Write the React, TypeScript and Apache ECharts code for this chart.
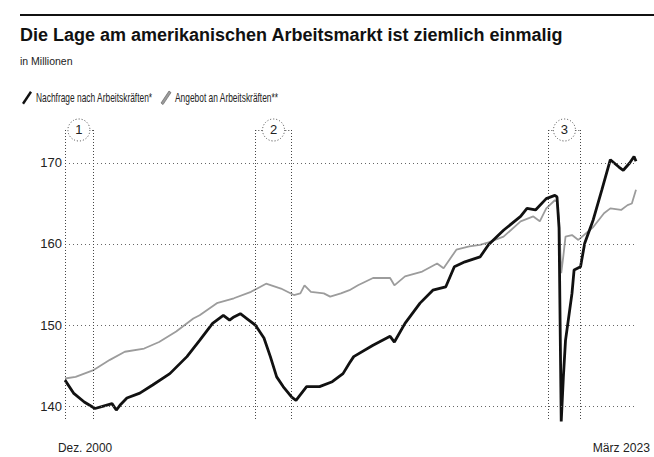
import React, { useEffect, useRef } from "react";
import * as echarts from "echarts";

const FONT = '"Liberation Sans", Arial, Helvetica, sans-serif';

const title = "Die Lage am amerikanischen Arbeitsmarkt ist ziemlich einmalig";
const subtitle = "in Millionen";
const seriesNames = ["Nachfrage nach Arbeitskräften*", "Angebot an Arbeitskräften**"];
const seriesColors = ["#111111", "#9c9c9c"];

const demandDates = [
  "2000-12", "2001-04", "2001-09", "2002-02", "2002-06", "2002-10", "2002-12", "2003-02", "2003-05", "2003-11",
  "2004-05", "2005-01", "2005-09", "2006-03", "2006-09", "2007-02", "2007-05", "2007-07", "2007-10", "2008-01",
  "2008-05", "2008-09", "2008-12", "2009-03", "2009-06", "2009-10", "2009-12", "2010-05", "2010-11", "2011-05",
  "2011-10", "2012-01", "2012-03", "2012-12", "2013-08", "2013-10", "2014-03", "2014-10", "2015-04", "2015-10",
  "2016-02", "2016-07", "2017-02", "2017-06", "2018-01", "2018-09", "2018-12", "2019-04", "2019-09", "2020-01",
  "2020-02", "2020-03", "2020-04", "2020-05", "2020-06", "2020-09", "2020-10", "2021-01", "2021-03", "2021-07",
  "2021-11", "2022-03", "2022-07", "2022-09", "2022-12", "2023-02", "2023-03",
];
const demandValues = [
  143.2, 141.6, 140.5, 139.7, 140.0, 140.3, 139.5, 140.2, 141.0, 141.6,
  142.6, 144.0, 146.1, 148.1, 150.2, 151.2, 150.6, 151.0, 151.4, 150.8,
  150.0, 148.4, 146.1, 143.6, 142.4, 141.1, 140.7, 142.4, 142.4, 143.0,
  144.0, 145.3, 146.1, 147.5, 148.6, 147.9, 150.2, 152.7, 154.3, 154.7,
  157.2, 157.8, 158.4, 159.9, 161.7, 163.4, 164.4, 164.2, 165.6, 166.0,
  165.8, 162.0, 138.1, 143.5, 148.1, 153.9, 156.8, 157.2, 160.1, 163.0,
  166.7, 170.4, 169.5, 169.1, 170.0, 170.8, 170.2,
];

const supplyDates = [
  "2000-12", "2001-05", "2002-01", "2002-09", "2003-04", "2004-01", "2004-08", "2005-04", "2005-12", "2006-03",
  "2006-11", "2007-07", "2008-03", "2008-10", "2009-05", "2009-11", "2010-02", "2010-04", "2010-07", "2011-01",
  "2011-04", "2011-09", "2012-01", "2012-05", "2012-12", "2013-08", "2013-10", "2014-03", "2014-11", "2015-06",
  "2015-09", "2016-03", "2016-09", "2017-02", "2017-06", "2018-01", "2018-09", "2019-03", "2019-06", "2019-09",
  "2020-01", "2020-02", "2020-03", "2020-04", "2020-05", "2020-06", "2020-09", "2020-12", "2021-07", "2021-12",
  "2022-03", "2022-08", "2022-11", "2023-01", "2023-03",
];
const supplyValues = [
  143.4, 143.6, 144.4, 145.7, 146.7, 147.1, 147.9, 149.2, 150.8, 151.2,
  152.7, 153.3, 154.1, 155.1, 154.5, 153.7, 153.9, 154.9, 154.1, 153.9,
  153.5, 153.9, 154.3, 154.9, 155.8, 155.8, 154.9, 156.0, 156.6, 157.6,
  157.0, 159.3, 159.7, 159.9, 160.2, 160.9, 162.8, 163.4, 162.8, 164.4,
  165.4, 165.2, 163.0, 156.4, 158.5, 160.9, 161.1, 160.5, 162.1, 163.8,
  164.4, 164.2, 164.8, 165.0, 166.7,
];

const yTicks = [140, 150, 160, 170];
const xRange = ["2000-12", "2023-03"];
const xLabels = ["Dez. 2000", "März 2023"];

const bandStarts = ["2000-12", "2008-05", "2019-10"];
const bandEnds = ["2002-01", "2009-10", "2021-01"];
const bandLabels = ["1", "2", "3"];
const bandTop = 174.07;
const bandBottom = 138.2;

const ts = (s: string) => {
  const [y, m] = s.split("-").map(Number);
  return new Date(y, m - 1, 1).getTime();
};

const SLASH = [[0, 12], [8, 0], [10, 1.6], [2, 13.6]];

export default function App() {
  const ref = useRef<HTMLDivElement>(null);
  useEffect(() => {
    document.body.style.margin = "0";
    const chart = echarts.init(ref.current!, null, { renderer: "svg" });

    const bandLines: any[] = [];
    bandStarts.forEach((s, i) => {
      [s, bandEnds[i]].forEach((d) => {
        bandLines.push([
          { coord: [ts(d), bandTop] },
          { coord: [ts(d), bandBottom] },
        ]);
      });
      bandLines.push([
        { coord: [ts(s), bandTop] },
        { coord: [ts(bandEnds[i]), bandTop] },
      ]);
    });

    const circles = bandLabels.map((l, i) => ({
      name: l,
      coord: [(ts(bandStarts[i]) + ts(bandEnds[i])) / 2, bandTop],
    }));

    const legendX = [22, 161];
    const legendGraphics: any[] = [];
    seriesNames.forEach((n, i) => {
      legendGraphics.push({
        type: "polygon",
        x: legendX[i],
        y: 91,
        shape: { points: SLASH },
        style: { fill: seriesColors[i], stroke: i === 1 ? "#555" : seriesColors[i], lineWidth: i === 1 ? 0.6 : 0 },
      });
      legendGraphics.push({
        type: "text",
        x: legendX[i] + 14,
        y: 98,
        scaleX: 0.7,
        style: {
          text: n,
          fontFamily: FONT,
          fontSize: 12,
          fill: "#222",
          verticalAlign: "middle",
        },
      });
    });

    chart.setOption({
      animation: false,
      backgroundColor: "#fff",
      graphic: [
        { type: "rect", x: 20, y: 14, shape: { width: 634, height: 2 }, style: { fill: "#111" } },
        {
          type: "text",
          x: 20,
          y: 35,
          style: { text: title, fontFamily: FONT, fontSize: 18, fontWeight: "bold", fill: "#111", verticalAlign: "middle" },
        },
        {
          type: "text",
          x: 20,
          y: 61,
          style: { text: subtitle, fontFamily: FONT, fontSize: 10.5, fill: "#222", verticalAlign: "middle" },
        },
        ...legendGraphics,
        {
          type: "text",
          x: 58,
          y: 447,
          scaleX: 0.88,
          style: { text: xLabels[0], fontFamily: FONT, fontSize: 13.5, fill: "#222", verticalAlign: "middle" },
        },
        {
          type: "text",
          x: 650,
          y: 447,
          scaleX: 0.9,
          style: { text: xLabels[1], fontFamily: FONT, fontSize: 13.5, fill: "#222", verticalAlign: "middle", align: "right" },
        },
      ],
      grid: { left: 65, right: 18, top: 118.4, bottom: 30.7 },
      xAxis: {
        type: "time",
        min: ts(xRange[0]),
        max: ts(xRange[1]),
        axisLine: { show: false },
        axisTick: { show: false },
        axisLabel: { show: false },
        splitLine: { show: false },
      },
      yAxis: {
        type: "value",
        min: 137.5,
        max: 175.5,
        axisLine: { show: false },
        axisTick: { show: false },
        axisLabel: { show: false },
        splitLine: { show: false },
      },
      series: [
        {
          name: seriesNames[1],
          type: "line",
          data: supplyDates.map((d, i) => [ts(d), supplyValues[i]]),
          showSymbol: false,
          symbol: "none",
          lineStyle: { color: seriesColors[1], width: 1.8 },
          itemStyle: { color: seriesColors[1] },
          z: 3,
          markLine: {
            silent: true,
            symbol: "none",
            lineStyle: { color: "#666", type: [1, 3], width: 1 },
            label: {
              show: true,
              position: "start",
              distance: 3,
              formatter: "{c}",
              fontFamily: FONT,
              fontSize: 13,
              color: "#222",
            },
            data: yTicks.map((v) => ({ yAxis: v })),
          },
        },
        {
          name: seriesNames[0],
          type: "line",
          data: demandDates.map((d, i) => [ts(d), demandValues[i]]),
          showSymbol: false,
          symbol: "none",
          lineStyle: { color: seriesColors[0], width: 2.8 },
          itemStyle: { color: seriesColors[0] },
          z: 4,
          markLine: {
            silent: true,
            symbol: "none",
            lineStyle: { color: "#444", type: [1, 2], width: 1 },
            label: { show: false },
            data: bandLines,
          },
          markPoint: {
            silent: true,
            symbol: "circle",
            symbolSize: 22,
            itemStyle: { color: "#fff", borderColor: "#444", borderWidth: 1, borderType: [1, 2] },
            label: {
              show: true,
              position: "inside",
              formatter: "{b}",
              fontFamily: FONT,
              fontSize: 13,
              color: "#222",
            },
            data: circles,
          },
        },
      ],
    });
    return () => chart.dispose();
  }, []);
  return <div ref={ref} style={{ width: 654, height: 457 }} />;
}
